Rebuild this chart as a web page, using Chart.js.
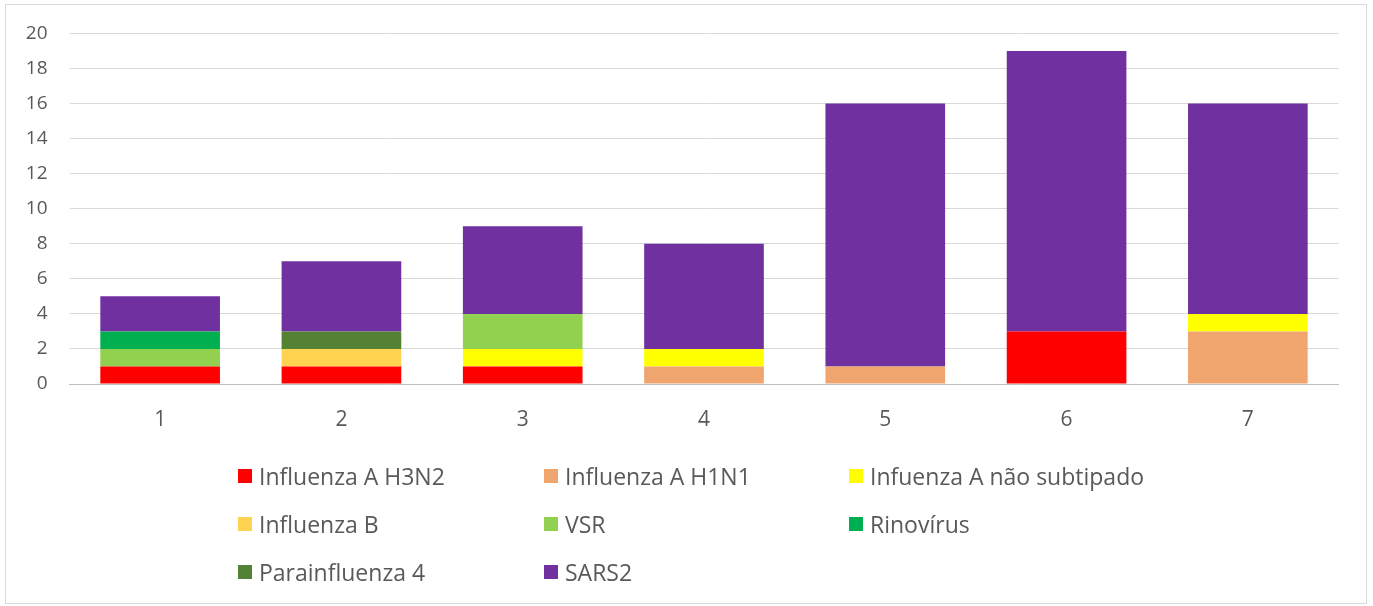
<!DOCTYPE html>
<html><head><meta charset="utf-8">
<script src="https://cdn.jsdelivr.net/npm/chart.js@4/dist/chart.umd.min.js"></script>
<style>
html,body{margin:0;padding:0;background:#fff;}
#wrap{position:relative;width:1373px;height:606px;overflow:hidden;}
#frame{position:absolute;left:5px;top:4px;width:1362px;height:600px;border:1px solid #d9d9d9;box-sizing:border-box;}
canvas{position:absolute;left:0;top:0;}
#legend{position:absolute;left:0;top:0;width:1373px;height:606px;pointer-events:none;font-family:"Open Sans",sans-serif;font-size:23px;color:#595959;}
.li{position:absolute;display:flex;align-items:center;white-space:nowrap;height:30px;}
.sw{width:14px;height:14px;margin-right:7px;flex:none;}
</style></head>
<body><div id="wrap"><div id="frame"></div><canvas id="c" width="1373" height="606"></canvas><div id="legend"></div></div>
<script>
const categories = ["1","2","3","4","5","6","7"];
const seriesNames = ["Influenza A H3N2","Influenza A H1N1","Infuenza A não subtipado","Influenza B","VSR","Rinovírus","Parainfluenza 4","SARS2"];
const h3n2     = [1,1,1,0,0,3,0];
const h1n1     = [0,0,0,1,1,0,3];
const naoSub   = [0,0,1,1,0,0,1];
const influB   = [0,1,0,0,0,0,0];
const vsr      = [1,0,2,0,0,0,0];
const rino     = [1,0,0,0,0,0,0];
const parainf4 = [0,1,0,0,0,0,0];
const sars2    = [2,4,5,6,15,16,12];
const yTicks   = [0,2,4,6,8,10,12,14,16,18,20];
const colors = ["#FF0000","#F0A56E","#FFFF00","#FFD34F","#92D050","#00B050","#548235","#7030A0"];
const values = [h3n2,h1n1,naoSub,influB,vsr,rino,parainf4,sars2];

const datasets = seriesNames.map((n,i)=>({label:n,data:values[i],backgroundColor:colors[i],borderWidth:0,barPercentage:0.66,categoryPercentage:1}));

new Chart(document.getElementById('c'),{
  type:'bar',
  data:{labels:categories,datasets},
  options:{
    responsive:false,animation:false,
    layout:{padding:{left:0,right:34.5,top:33,bottom:0}},
    plugins:{legend:{display:false},tooltip:{enabled:false}},
    scales:{
      x:{stacked:true,
         grid:{display:false,drawTicks:false},
         border:{color:'#bfbfbf',width:1},
         ticks:{color:'#595959',font:{family:'"Open Sans",sans-serif',size:21},padding:23},
         afterFit:(s)=>{s.height=222;}},
      y:{stacked:true,min:0,max:20,
         grid:{color:'#d9d9d9',drawTicks:false},
         border:{display:false},
         afterBuildTicks:(s)=>{s.ticks=yTicks.map(v=>({value:v}));},
         ticks:{color:'#595959',font:{family:'"Open Sans",sans-serif',size:19},padding:22},
         afterFit:(s)=>{s.width=69.5;}}
    }
  }
});

const pos=[[238,476],[544,476],[849,476],[238,524],[544,524],[849,524],[238,572],[544,572]];
const lg=document.getElementById('legend');
seriesNames.forEach((n,i)=>{
  const d=document.createElement('div');d.className='li';
  d.style.left=pos[i][0]+'px';d.style.top=(pos[i][1]-15)+'px';
  const s=document.createElement('span');s.className='sw';s.style.background=colors[i];
  const t=document.createElement('span');t.textContent=n;
  d.appendChild(s);d.appendChild(t);lg.appendChild(d);
});
</script></body></html>
